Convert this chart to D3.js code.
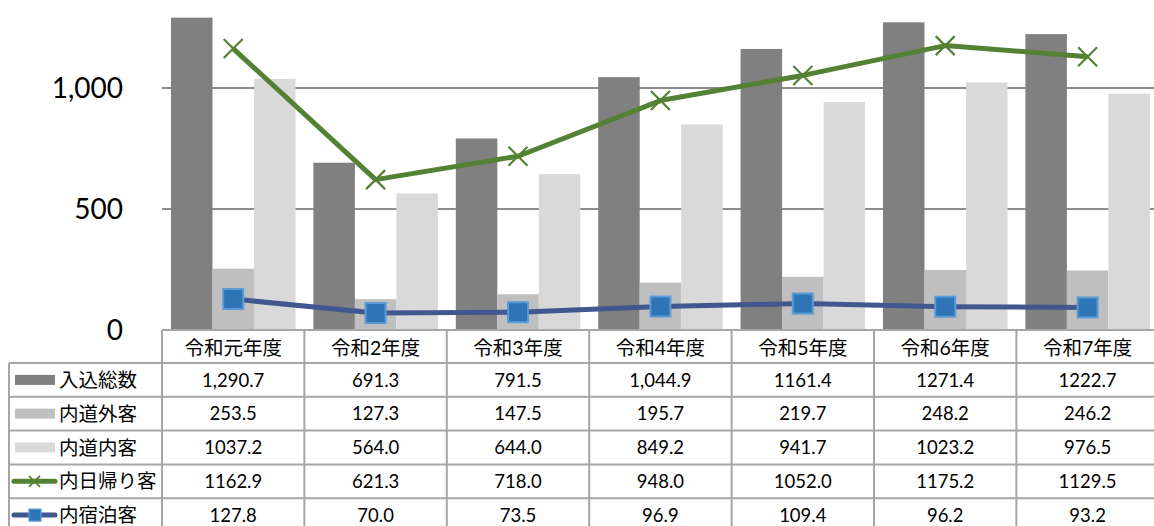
<!DOCTYPE html>
<html><head><meta charset="utf-8">
<script src="https://cdn.jsdelivr.net/npm/d3@7"></script>
<style>
html,body{margin:0;padding:0;background:#fff;}
svg{display:block;}
text{font-family:Lato,"Noto Sans CJK JP",sans-serif;}
</style></head>
<body><svg id="c" width="1154" height="526"></svg>
<script>
const categories = ["令和元年度","令和2年度","令和3年度","令和4年度","令和5年度","令和6年度","令和7年度"];
const seriesNames = ["入込総数","内道外客","内道内客","内日帰り客","内宿泊客"];
const totalVisitors = [1290.7, 691.3, 791.5, 1044.9, 1161.4, 1271.4, 1222.7];
const outOfPref = [253.5, 127.3, 147.5, 195.7, 219.7, 248.2, 246.2];
const inPref = [1037.2, 564.0, 644.0, 849.2, 941.7, 1023.2, 976.5];
const dayTrip = [1162.9, 621.3, 718.0, 948.0, 1052.0, 1175.2, 1129.5];
const overnight = [127.8, 70.0, 73.5, 96.9, 109.4, 96.2, 93.2];
const yTicks = [0, 500, 1000];
const yTickLabels = ["0", "500", "1,000"];
const tableLabels = [
  ["1,290.7","691.3","791.5","1,044.9","1161.4","1271.4","1222.7"],
  ["253.5","127.3","147.5","195.7","219.7","248.2","246.2"],
  ["1037.2","564.0","644.0","849.2","941.7","1023.2","976.5"],
  ["1162.9","621.3","718.0","948.0","1052.0","1175.2","1129.5"],
  ["127.8","70.0","73.5","96.9","109.4","96.2","93.2"]
];

const svg = d3.select("#c");
const barColors = ["#808080", "#bfbfbf", "#d9d9d9"];
const greenC = "#548235", blueLine = "#41578f", blueFill = "#2e75b6", blueEdge = "#5b9bd5";
const gridC = "#8c8c8c", tableC = "#a6a6a6";

const left = 162, colW = 142.4;
const x = d3.scaleBand().domain(categories).range([left, left + colW * categories.length]).paddingInner(0).paddingOuter(0);
const xs = d3.scaleBand().domain([0,1,2]).range([9, 133.5]).padding(0);
const y = d3.scaleLinear().domain([0, 1000]).range([330, 88]);

// gridlines
svg.append("g").selectAll("line").data(yTicks.filter(d => d > 0)).join("line")
  .attr("x1", left).attr("x2", 1154).attr("y1", d => y(d)).attr("y2", d => y(d))
  .attr("stroke", gridC).attr("stroke-width", 2);

// y labels
svg.append("g").selectAll("text").data(yTicks).join("text")
  .attr("x", 123).attr("y", d => y(d)).attr("dy", "0.36em")
  .attr("text-anchor", "end").attr("font-size", 28).attr("fill", "#000")
  .text((d, i) => yTickLabels[i]);

// bars
const barSeries = [totalVisitors, outOfPref, inPref];
barSeries.forEach((arr, si) => {
  svg.append("g").selectAll("rect").data(arr).join("rect")
    .attr("x", (d, i) => x(categories[i]) + xs(si))
    .attr("width", xs.bandwidth())
    .attr("y", d => y(d))
    .attr("height", d => y(0) - y(d))
    .attr("fill", barColors[si]);
});

const cx = i => x(categories[i]) + colW / 2;

// day trip line
svg.append("path").datum(dayTrip)
  .attr("d", d3.line().x((d, i) => cx(i)).y(d => y(d)))
  .attr("fill", "none").attr("stroke", greenC).attr("stroke-width", 5).attr("stroke-linejoin", "round");
const xm = 9.5;
svg.append("g").selectAll("path").data(dayTrip).join("path")
  .attr("d", (d, i) => { const px = cx(i), py = y(d); return `M${px-xm},${py-xm}L${px+xm},${py+xm}M${px-xm},${py+xm}L${px+xm},${py-xm}`; })
  .attr("stroke", greenC).attr("stroke-width", 2.2).attr("fill", "none");

// overnight line
svg.append("path").datum(overnight)
  .attr("d", d3.line().x((d, i) => cx(i)).y(d => y(d)))
  .attr("fill", "none").attr("stroke", blueLine).attr("stroke-width", 5).attr("stroke-linejoin", "round");
const sq = 20;
svg.append("g").selectAll("rect").data(overnight).join("rect")
  .attr("x", (d, i) => cx(i) - sq / 2).attr("y", d => y(d) - sq / 2)
  .attr("width", sq).attr("height", sq)
  .attr("fill", blueFill).attr("stroke", blueEdge).attr("stroke-width", 2);

// data table
const headTop = 330, headH = 33, rowH = 33.8;
const tableLeft = 9, right = left + colW * categories.length;
const tg = svg.append("g");
tg.append("line").attr("x1", left).attr("x2", right).attr("y1", headTop).attr("y2", headTop).attr("stroke", tableC).attr("stroke-width", 2);
for (let r = 0; r <= seriesNames.length; r++) {
  const yy = headTop + headH + r * rowH;
  tg.append("line").attr("x1", tableLeft).attr("x2", right).attr("y1", yy).attr("y2", yy).attr("stroke", tableC).attr("stroke-width", 2);
}
const bottom = headTop + headH + seriesNames.length * rowH;
tg.append("line").attr("x1", tableLeft).attr("x2", tableLeft).attr("y1", headTop + headH).attr("y2", bottom).attr("stroke", tableC).attr("stroke-width", 2);
categories.forEach((c, i) => {
  tg.append("line").attr("x1", x(c)).attr("x2", x(c)).attr("y1", headTop).attr("y2", bottom).attr("stroke", tableC).attr("stroke-width", 2);
});
tg.selectAll("text.h").data(categories).join("text").attr("class", "h")
  .attr("x", (d) => x(d) + colW / 2).attr("y", headTop + headH / 2 + 1).attr("dy", "0.36em")
  .attr("text-anchor", "middle").attr("font-size", 19.5).attr("fill", "#000").text(d => d);
tableLabels.forEach((row, r) => {
  const yc = headTop + headH + r * rowH + rowH / 2;
  tg.append("g").selectAll("text").data(row).join("text")
    .attr("x", (d, i) => cx(i)).attr("y", yc).attr("dy", "0.36em")
    .attr("text-anchor", "middle").attr("font-size", 18.5).attr("fill", "#000").text(d => d);
  tg.append("text").attr("x", 59).attr("y", yc).attr("dy", "0.36em")
    .attr("font-size", 19.5).attr("fill", "#000").text(seriesNames[r]);
  if (r < 3) {
    tg.append("rect").attr("x", 15).attr("y", yc - 5).attr("width", 40).attr("height", 10).attr("fill", barColors[r]);
  } else if (r === 3) {
    tg.append("line").attr("x1", 14).attr("x2", 55).attr("y1", yc).attr("y2", yc).attr("stroke", greenC).attr("stroke-width", 5).attr("stroke-linecap", "round");
    const m = 5.5, px = 34.5;
    tg.append("path").attr("d", `M${px-m},${yc-m}L${px+m},${yc+m}M${px-m},${yc+m}L${px+m},${yc-m}`).attr("stroke", greenC).attr("stroke-width", 1.8);
  } else {
    tg.append("line").attr("x1", 14).attr("x2", 55).attr("y1", yc).attr("y2", yc).attr("stroke", blueLine).attr("stroke-width", 5).attr("stroke-linecap", "round");
    tg.append("rect").attr("x", 29).attr("y", yc - 6).attr("width", 12).attr("height", 12).attr("fill", blueFill).attr("stroke", blueEdge).attr("stroke-width", 1.2);
  }
});
</script></body></html>
